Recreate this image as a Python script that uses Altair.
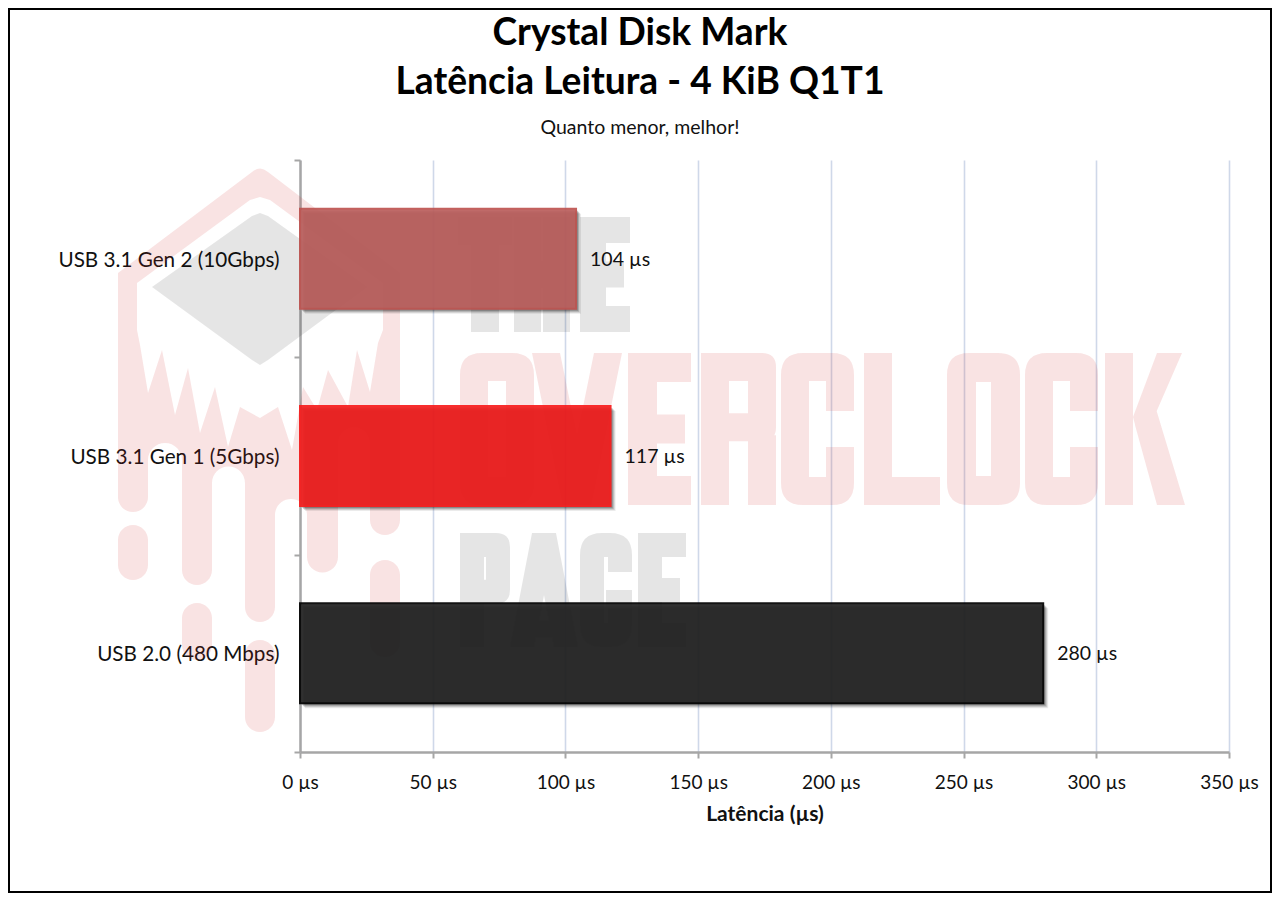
import altair as alt
import pandas as pd

categories = ["USB 3.1 Gen 2 (10Gbps)", "USB 3.1 Gen 1 (5Gbps)", "USB 2.0 (480 Mbps)"]
latency = [104, 117, 280]
fills = ["#BB5F5D", "#F01D1D", "#232323"]
strokes = ["#BE5350", "#F81C1C", "#000000"]
x_ticks = [0, 50, 100, 150, 200, 250, 300, 350]
title_lines = ["Crystal Disk Mark", "Latência Leitura - 4 KiB Q1T1"]
subtitle = "Quanto menor, melhor!"

FONT = "Lato"
PINK = "#D12828"
PINK_A = 0.13
GREY = "#000000"
GREY_A = 0.10
GRID = "#CFD8E9"
AXIS = "#A6A6A6"
INK = "#111111"

df = pd.DataFrame({
    "device": categories,
    "latency": latency,
    "label": [f"{v} µs" for v in latency],
})
one = pd.DataFrame({"k": [0]})


# ---- watermark outlines (page pixels), decoration only ----
def rect(x0, y0, x1, y1):
    return f"M{x0},{y0}L{x1},{y0}L{x1},{y1}L{x0},{y1}Z"


def hole(x0, y0, x1, y1):
    return f"M{x0},{y0}L{x0},{y1}L{x1},{y1}L{x1},{y0}Z"


def poly(*pts):
    return "M" + "L".join(f"{a},{b}" for a, b in pts) + "Z"


def ring(x0, y0, x1, y1, s, r=22):
    outer = (f"M{x0+r},{y0}L{x1-r},{y0}Q{x1},{y0} {x1},{y0+r}L{x1},{y1-r}Q{x1},{y1} {x1-r},{y1}"
             f"L{x0+r},{y1}Q{x0},{y1} {x0},{y1-r}L{x0},{y0+r}Q{x0},{y0} {x0+r},{y0}Z")
    return outer + hole(x0 + s, y0 + s, x1 - s, y1 - s)


def L_T(x0, x1, y0, y1, s):
    m = (x0 + x1) / 2
    return rect(x0, y0, x1, y0 + s) + rect(m - s / 2, y0, m + s / 2, y1)


def L_H(x0, x1, y0, y1, s):
    m = (y0 + y1) / 2
    return rect(x0, y0, x0 + s, y1) + rect(x1 - s, y0, x1, y1) + rect(x0, m - s / 2, x1, m + s / 2)


def L_E(x0, x1, y0, y1, s):
    m = (y0 + y1) / 2
    return (rect(x0, y0, x0 + s, y1) + rect(x0, y0, x1, y0 + s) + rect(x0, y1 - s, x1, y1)
            + rect(x0, m - s / 2, x1 - 6, m + s / 2))


def L_L(x0, x1, y0, y1, s):
    return rect(x0, y0, x0 + s, y1) + rect(x0, y1 - s, x1, y1)


def L_O(x0, x1, y0, y1, s):
    return ring(x0, y0, x1, y1, s)


def L_C(x0, x1, y0, y1, s):
    m = (y0 + y1) / 2
    return (
        f"M{x0+22},{y0}L{x1-22},{y0}Q{x1},{y0} {x1},{y0+22}L{x1},{m-18}L{x1-s},{m-18}L{x1-s},{y0+s}"
        f"L{x0+s},{y0+s}L{x0+s},{y1-s}L{x1-s},{y1-s}L{x1-s},{m+18}L{x1},{m+18}L{x1},{y1-22}"
        f"Q{x1},{y1} {x1-22},{y1}L{x0+22},{y1}Q{x0},{y1} {x0},{y1-22}L{x0},{y0+22}Q{x0},{y0} {x0+22},{y0}Z")


def L_G(x0, x1, y0, y1, s):
    m = (y0 + y1) / 2
    return L_C(x0, x1, y0, y1, s) + rect(x0 + (x1 - x0) / 2, m, x1, m + s * 0.7)


def L_V(x0, x1, y0, y1, s):
    m = (x0 + x1) / 2
    return poly((x0, y0), (x0 + s, y0), (m + s / 2, y1), (m - s / 2, y1)) + poly(
        (x1 - s, y0), (x1, y0), (m + s / 2, y1), (m - s / 2, y1))


def L_A(x0, x1, y0, y1, s):
    m = (x0 + x1) / 2
    return (poly((m - s / 2, y0), (m + s / 2, y0), (x0 + s, y1), (x0, y1))
            + poly((m - s / 2, y0), (m + s / 2, y0), (x1, y1), (x1 - s, y1))
            + rect(x0 + s * 0.7, y1 - s * 1.1, x1 - s * 0.7, y1 - s * 0.4))


def L_P(x0, x1, y0, y1, s):
    b = y0 + (y1 - y0) * 0.62
    return rect(x0, y0, x0 + s, y1) + ring(x0, y0, x1, b, s, r=14)


def L_R(x0, x1, y0, y1, s):
    b = y0 + (y1 - y0) * 0.58
    return (rect(x0, y0, x0 + s, y1) + ring(x0, y0, x1, b, s, r=14)
            + rect(x1 - s, b - 6, x1, y1))


def L_K(x0, x1, y0, y1, s):
    m = (y0 + y1) / 2
    return (rect(x0, y0, x0 + s, y1)
            + poly((x1 - s, y0), (x1 - 3, y0), (x0 + s + 8, m + 18), (x0 + s, m - 12))
            + poly((x0 + s + 2, m - 4), (x0 + s + 20, m - 30), (x1, y1), (x1 - s, y1)))


word_the = (L_T(458, 512, 217, 332, 28) + L_H(514, 570, 217, 332, 27) + L_E(580, 630, 217, 332, 26))
word_overclock = (
    L_O(460, 534, 353, 505, 28) + L_V(532, 622, 353, 505, 28) + L_E(628, 691, 353, 505, 29)
    + L_R(701, 776, 353, 505, 28) + L_C(781, 854, 353, 505, 28) + L_L(864, 940, 353, 505, 28)
    + L_O(947, 1020, 353, 505, 29) + L_C(1025, 1098, 353, 505, 28) + L_K(1105, 1185, 353, 505, 28)
)
word_page = (L_P(460, 510, 533, 647, 24) + L_A(510, 578, 533, 647, 24)
             + L_G(580, 632, 533, 647, 24) + L_E(638, 686, 533, 647, 24))

inner_pts = [
    (137, 283), (250, 200), (260, 197), (270, 200), (383, 283), (383, 330), (378, 343), (370, 392),
    (357, 350), (348, 407), (328, 370), (317, 410), (303, 387), (292, 450), (278, 407), (260, 418),
    (240, 407), (228, 447), (215, 387), (200, 433), (188, 368), (175, 415), (162, 350), (148, 393),
    (140, 345), (137, 330),
]
logo_body = (
    "M118,273L252,172Q260,165 268,172L400,273L400,520A15,15 0 0 1 370,520L370,443"
    "A16,16 0 0 0 338,443L338,557A15.5,15.5 0 0 1 307,557L307,515A16,16 0 0 0 275,515"
    "L275,607A15,15 0 0 1 245,607L245,483A16.5,16.5 0 0 0 212,483L212,570A15,15 0 0 1 182,570"
    "L182,460A17,17 0 0 0 148,460L148,497A15,15 0 0 1 118,497Z"
    + poly(*reversed(inner_pts))
    + "M118,540A15,15 0 0 1 148,540L148,565A15,15 0 0 1 118,565Z"
    "M182,618A15,15 0 0 1 212,618L212,645A15,15 0 0 1 182,645Z"
    "M245,655A15,15 0 0 1 275,655L275,717A15,15 0 0 1 245,717Z"
    "M370,575A15,15 0 0 1 400,575L400,642A15,15 0 0 1 370,642Z"
)
logo_diamond = poly((152, 287), (252, 216), (260, 213), (268, 216), (367, 287), (268, 360), (260, 365),
                    (252, 360))


def deco(path, color, alpha):
    # size 4 makes one path unit equal one pixel; the path is written in page pixels
    return alt.Chart(one).mark_point(
        shape=path, size=4, filled=True, fill=color, opacity=alpha, strokeWidth=0
    ).encode(x=alt.value(-300), y=alt.value(-160))


watermark = [
    deco(logo_body, PINK, PINK_A),
    deco(logo_diamond, GREY, GREY_A),
    deco(word_the, GREY, GREY_A),
    deco(word_overclock, PINK, PINK_A),
    deco(word_page, GREY, GREY_A),
]

# ---- chart ----
x_enc = alt.X(
    "latency:Q",
    scale=alt.Scale(domain=[0, 350], nice=False, zero=True),
    title="Latência (µs)",
    axis=alt.Axis(
        values=x_ticks,
        labelExpr="datum.value + ' µs'",
        labelFont=FONT,
        labelFontSize=19,
        labelColor=INK,
        labelPadding=15,
        labelFlush=False,
        titleFont=FONT,
        titleFontSize=21,
        titleFontWeight="bold",
        titleColor=INK,
        titlePadding=11,
        domainColor=AXIS,
        domainWidth=2.5,
        tickColor=AXIS,
        tickWidth=2,
        tickSize=6,
        grid=True,
        gridColor=GRID,
        gridWidth=1.6,
    ),
)
y_enc = alt.Y(
    "device:N",
    scale=alt.Scale(domain=categories, paddingInner=0, paddingOuter=0),
    sort=categories,
    title=None,
    axis=alt.Axis(
        labelFont=FONT,
        labelFontSize=20.7,
        labelColor=INK,
        labelPadding=15,
        labelLimit=400,
        labelOffset=1.5,
        domainColor=AXIS,
        domainWidth=2.5,
        tickColor=AXIS,
        tickWidth=2,
        tickSize=6,
        tickBand="extent",
        grid=False,
    ),
)


def shadow(off, op):
    return alt.Chart(df).mark_bar(
        size=100, color="#000000", opacity=op,
        xOffset=off, x2Offset=off, yOffset=off, y2Offset=off,
    ).encode(x=x_enc, y=y_enc)


bars = alt.Chart(df).mark_bar(size=100, strokeWidth=2, opacity=0.92, strokeOpacity=1).encode(
    x=x_enc,
    y=y_enc,
    fill=alt.Fill("device:N", scale=alt.Scale(domain=categories, range=fills), legend=None),
    stroke=alt.Stroke("device:N", scale=alt.Scale(domain=categories, range=strokes), legend=None),
)

labels = alt.Chart(df).mark_text(
    align="left", baseline="middle", dx=14, dy=1, font=FONT, fontSize=19.5, color=INK
).encode(x=x_enc, y=y_enc, text="label:N")


def heading(text, y, size, weight, color):
    return alt.Chart(pd.DataFrame({"t": [text]})).mark_text(
        align="center", baseline="middle", font=FONT, fontSize=size, fontWeight=weight, color=color
    ).encode(x=alt.value(340), y=alt.value(y), text="t:N")


titles = [
    heading(title_lines[0], -126, 37.2, "bold", "#000000"),
    heading(title_lines[1], -77, 37.2, "bold", "#000000"),
    heading(subtitle, -32, 19.5, "normal", INK),
]

frame = alt.Chart(one).mark_rect(filled=False, stroke="#000000", strokeWidth=2).encode(
    x=alt.value(-291), x2=alt.value(971), y=alt.value(-151), y2=alt.value(732)
)

layers = watermark + [shadow(5, 0.08), shadow(4, 0.12), shadow(3, 0.16), shadow(2, 0.20), bars, labels] + titles + [frame]

chart = alt.layer(*layers).properties(
    width=929,
    height=592,
    padding={"left": 292, "top": 152, "right": 43, "bottom": 141},
    autosize=alt.AutoSizeParams(type="none"),
    background="#FFFFFF",
).configure_view(stroke=None)

chart.save("out.html", embed_options={"renderer": "svg", "actions": False})
